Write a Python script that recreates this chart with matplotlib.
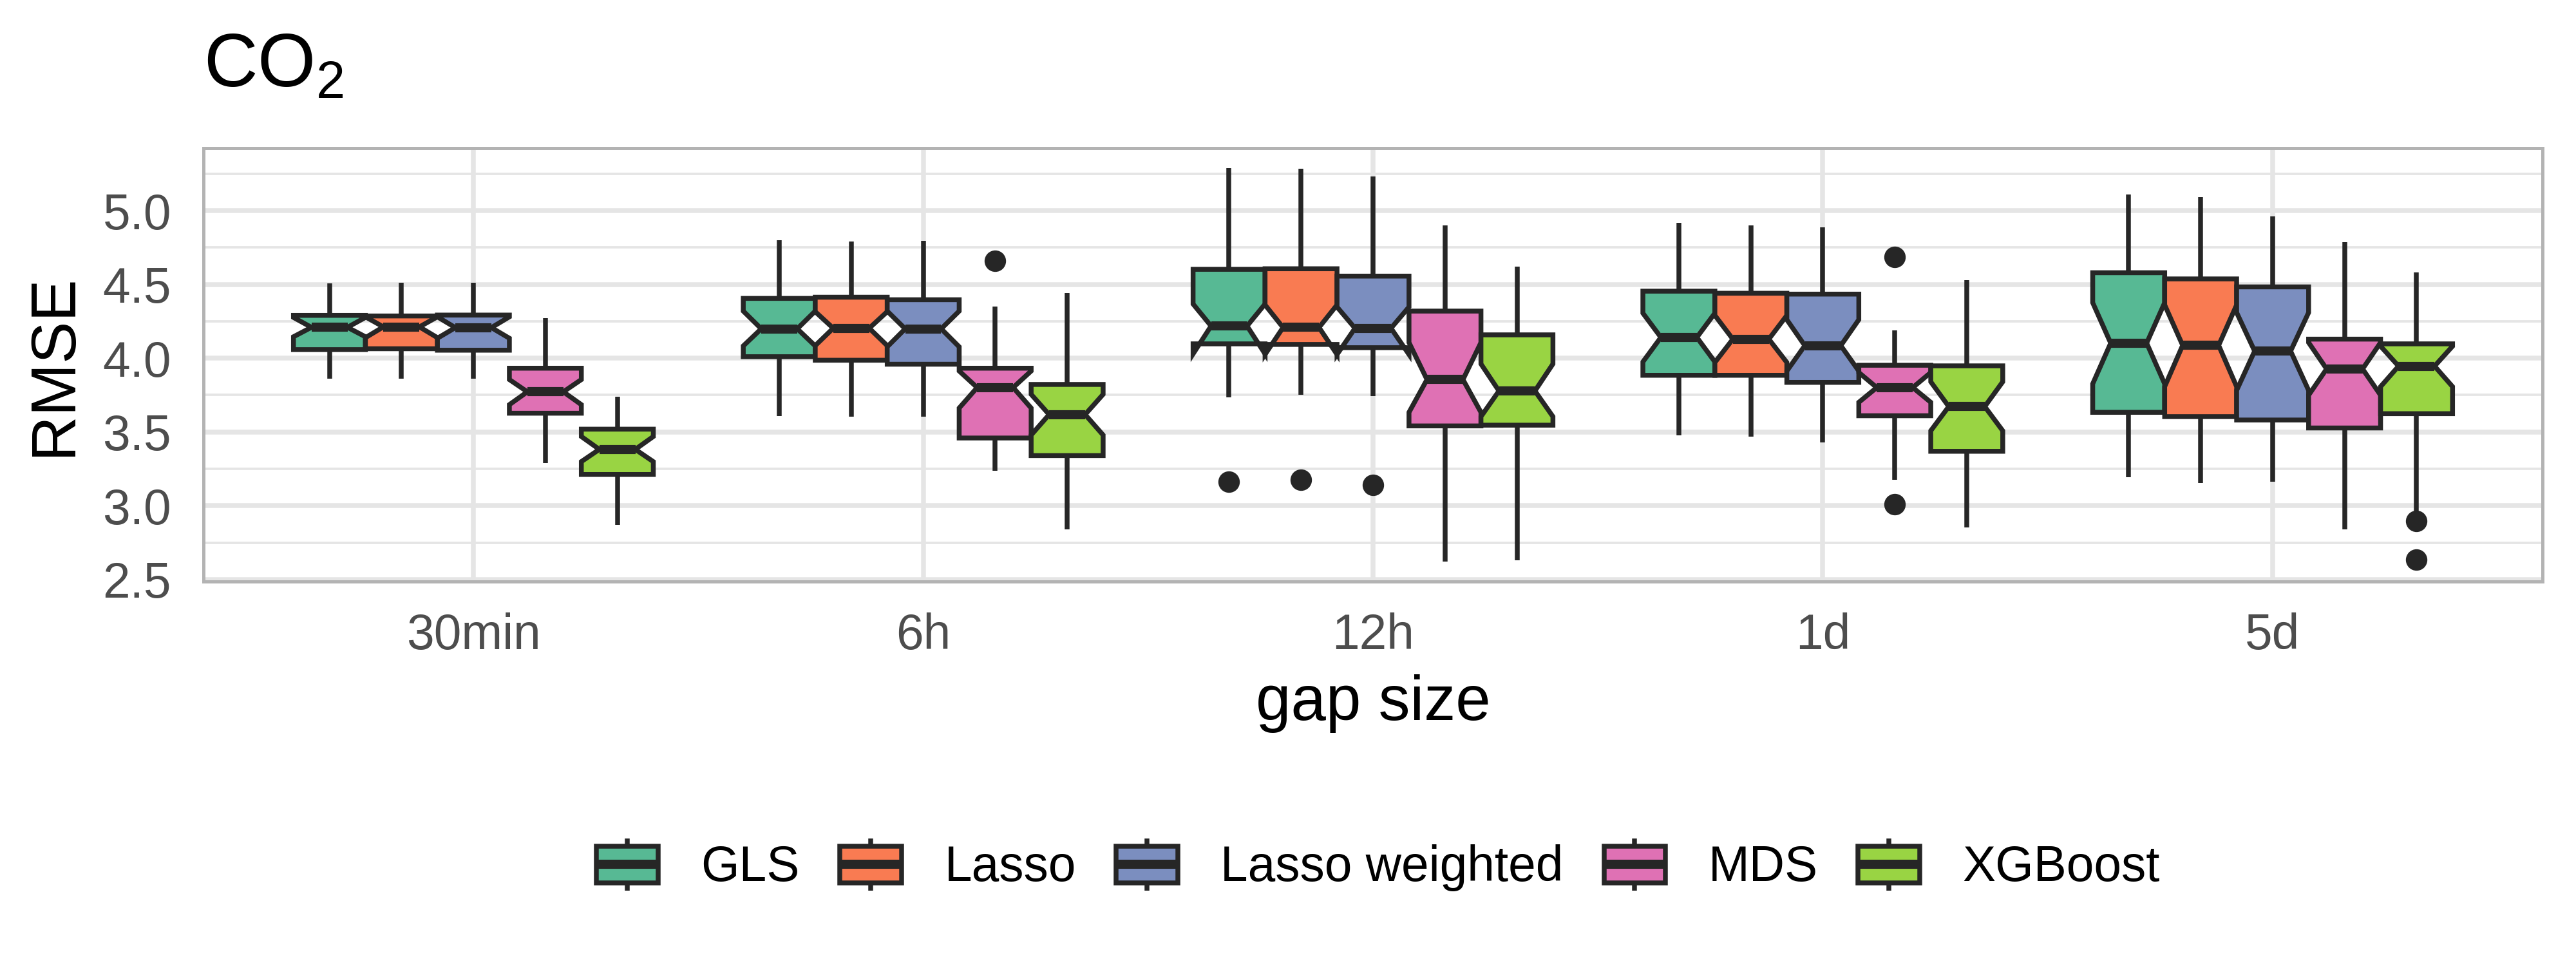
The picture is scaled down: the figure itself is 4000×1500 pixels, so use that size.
import matplotlib
matplotlib.use('Agg')
import matplotlib.pyplot as plt
from matplotlib.patches import Rectangle, Patch
from matplotlib.lines import Line2D
from matplotlib.legend_handler import HandlerBase
import numpy as np

plt.rcParams['font.family'] = ['Liberation Sans', 'DejaVu Sans']
plt.rcParams['mathtext.fontset'] = 'custom'
plt.rcParams['mathtext.rm'] = 'Liberation Sans'
plt.rcParams['mathtext.default'] = 'regular'

# ---------------- data ----------------
gap_sizes = ['30min', '6h', '12h', '1d', '5d']
methods = ['GLS', 'Lasso', 'Lasso weighted', 'MDS', 'XGBoost']
colors = ['#57B994', '#F97B52', '#7B8EBF', '#DF71B4', '#99D443']

# rows: methods, columns: gap sizes
whislo = [[3.859, 3.608, 3.734, 3.479, 3.195],
          [3.859, 3.604, 3.753, 3.469, 3.156],
          [3.859, 3.604, 3.745, 3.427, 3.164],
          [3.290, 3.237, 2.620, 3.176, 2.838],
          [2.871, 2.840, 2.629, 2.851, 2.963]]
q1 = [[4.058, 4.010, 4.097, 3.884, 3.633],
      [4.064, 3.986, 4.093, 3.884, 3.604],
      [4.054, 3.959, 4.071, 3.836, 3.581],
      [3.627, 3.459, 3.541, 3.610, 3.527],
      [3.212, 3.340, 3.546, 3.369, 3.624]]
med = [[4.209, 4.199, 4.218, 4.141, 4.102],
       [4.212, 4.203, 4.208, 4.129, 4.087],
       [4.207, 4.199, 4.203, 4.085, 4.048],
       [3.772, 3.801, 3.855, 3.801, 3.927],
       [3.382, 3.618, 3.778, 3.672, 3.946]]
q3 = [[4.290, 4.405, 4.602, 4.454, 4.579],
      [4.286, 4.413, 4.606, 4.440, 4.537],
      [4.292, 4.396, 4.556, 4.434, 4.483],
      [3.932, 3.932, 4.319, 3.952, 4.129],
      [3.519, 3.822, 4.158, 3.948, 4.097]]
whishi = [[4.506, 4.801, 5.290, 4.917, 5.110],
          [4.512, 4.792, 5.284, 4.898, 5.091],
          [4.512, 4.793, 5.230, 4.888, 4.959],
          [4.272, 4.349, 4.898, 4.189, 4.786],
          [3.741, 4.440, 4.622, 4.527, 4.579]]
notch_lo = [[4.145, 4.083, 4.029, 3.975, 3.826],
            [4.139, 4.085, 4.025, 3.971, 3.807],
            [4.135, 4.077, 4.025, 3.913, 3.782],
            [3.685, 3.662, 3.633, 3.701, 3.749],
            [3.299, 3.479, 3.604, 3.508, 3.807]]
notch_hi = [[4.276, 4.319, 4.367, 4.305, 4.376],
            [4.280, 4.315, 4.361, 4.290, 4.361],
            [4.280, 4.319, 4.347, 4.261, 4.309],
            [3.855, 3.913, 4.106, 3.903, 4.106],
            [3.469, 3.755, 3.961, 3.840, 4.081]]
outlier_method = ['MDS', 'GLS', 'Lasso', 'Lasso weighted', 'MDS', 'MDS', 'XGBoost', 'XGBoost']
outlier_gap = ['6h', '12h', '12h', '12h', '1d', '1d', '5d', '5d']
outlier_value = [4.660, 3.164, 3.176, 3.141, 4.685, 3.010, 2.896, 2.635]

# ---------------- style ----------------
dark = '#262626'
grid_col = '#E5E5E5'
lw_box = 1.8
box_w = 0.16

fig = plt.figure(figsize=(4000 / 300, 1500 / 300), dpi=300)
ax = fig.add_axes([0.079, 0.398, 0.908, 0.4487])

for i, m in enumerate(methods):
    stats = []
    for j, g in enumerate(gap_sizes):
        fl = [v for om, og, v in zip(outlier_method, outlier_gap, outlier_value)
              if om == m and og == g]
        stats.append(dict(whislo=whislo[i][j], q1=q1[i][j], med=med[i][j],
                          q3=q3[i][j], whishi=whishi[i][j],
                          cilo=notch_lo[i][j], cihi=notch_hi[i][j],
                          fliers=np.array(fl)))
    pos = np.arange(1, len(gap_sizes) + 1) + (i - 2) * box_w
    ax.bxp(stats, positions=pos, widths=box_w, shownotches=True, patch_artist=True,
           showcaps=False, manage_ticks=False,
           boxprops=dict(facecolor=colors[i], edgecolor=dark, linewidth=lw_box,
                         joinstyle='miter'),
           whiskerprops=dict(color=dark, linewidth=lw_box, solid_capstyle='butt'),
           medianprops=dict(color=dark, linewidth=3.4, solid_capstyle='butt'),
           flierprops=dict(marker='o', markerfacecolor=dark, markeredgecolor=dark,
                           markersize=7, linestyle='none'))

# axis limits (ggplot-like expansion)
all_vals = np.concatenate([np.ravel(whislo), np.ravel(whishi), outlier_value])
lo, hi = all_vals.min(), all_vals.max()
rng = hi - lo
ax.set_ylim(lo - 0.05 * rng, hi + 0.05 * rng)
ax.set_xlim(0.4, len(gap_sizes) + 0.6)

ax.set_xticks(np.arange(1, len(gap_sizes) + 1))
ax.set_xticklabels(gap_sizes)
ax.set_yticks([2.5, 3.0, 3.5, 4.0, 4.5, 5.0])
ax.set_yticklabels(['2.5', '3.0', '3.5', '4.0', '4.5', '5.0'])
ax.set_yticks([2.75, 3.25, 3.75, 4.25, 4.75, 5.25], minor=True)

ax.set_axisbelow(True)
ax.grid(which='major', axis='both', color=grid_col, linewidth=1.8)
ax.grid(which='minor', axis='y', color=grid_col, linewidth=0.9)
ax.tick_params(axis='both', which='both', length=0, labelsize=18.4,
               labelcolor='#4D4D4D')
ax.tick_params(axis='y', pad=12)
ax.tick_params(axis='x', pad=11.5)
for s in ax.spines.values():
    s.set_color('#B3B3B3')
    s.set_linewidth(1.2)

ax.set_xlabel('gap size', fontsize=23.5, va='baseline')
ax.xaxis.set_label_coords(0.5, -0.3195)
ax.set_ylabel('RMSE', fontsize=23.5, va='center', ha='center')
ax.yaxis.set_label_coords(-0.0638, 0.5)

fig.text(0.0790, 0.9107, 'CO$_2$', fontsize=27.8, ha='left', va='baseline')


class BoxKeyHandler(HandlerBase):
    def create_artists(self, legend, orig_handle, xdescent, ydescent, width,
                       height, fontsize, trans):
        x0, y0 = -xdescent, -ydescent
        fc = orig_handle.get_facecolor()
        cx = x0 + width / 2
        w1 = Line2D([cx, cx], [y0, y0 + 0.15 * height], color=dark,
                    linewidth=lw_box, transform=trans, solid_capstyle='butt')
        w2 = Line2D([cx, cx], [y0 + 0.85 * height, y0 + height], color=dark,
                    linewidth=lw_box, transform=trans, solid_capstyle='butt')
        rect = Rectangle((x0, y0 + 0.15 * height), width, 0.7 * height,
                         facecolor=fc, edgecolor=dark, linewidth=lw_box,
                         joinstyle='miter', transform=trans)
        md = Line2D([x0, x0 + width], [y0 + height / 2] * 2, color=dark,
                    linewidth=3.4, transform=trans, solid_capstyle='butt')
        return [w1, w2, rect, md]


handles = [Patch(facecolor=c) for c in colors]
fig.legend(handles, methods, loc='center', bbox_to_anchor=(0.535, 0.1047),
           ncol=5, frameon=False, fontsize=18.4, handlelength=1.25,
           handleheight=1.25, handletextpad=0.86, columnspacing=0.82,
           handler_map={Patch: BoxKeyHandler()})

fig.savefig('out.png', dpi=300)
